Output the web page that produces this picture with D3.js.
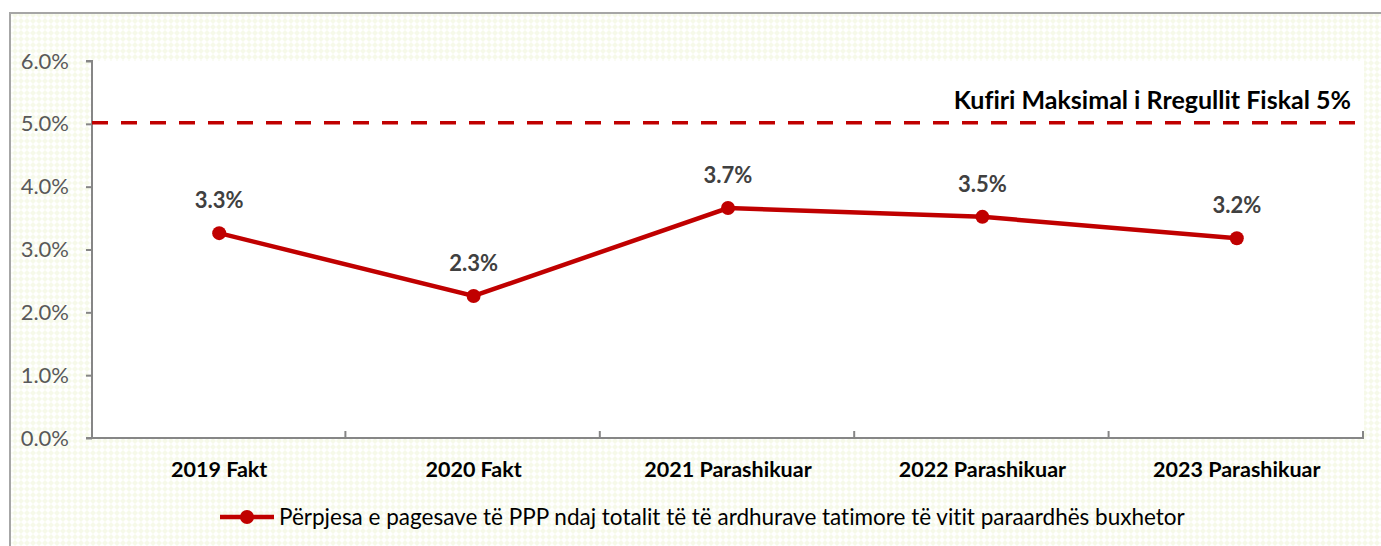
<!DOCTYPE html>
<html><head><meta charset="utf-8">
<script src="https://cdn.jsdelivr.net/npm/d3@7/dist/d3.min.js"></script>
<style>body{margin:0;background:#fff;}svg{display:block;}text{font-variant-ligatures:none;font-feature-settings:"liga" 0;}</style>
</head><body>
<svg id="c" width="1381" height="546"></svg>
<script>
const categories = ["2019 Fakt","2020 Fakt","2021 Parashikuar","2022 Parashikuar","2023 Parashikuar"];
const values = [3.26, 2.26, 3.66, 3.52, 3.18];
const valueLabels = ["3.3%","2.3%","3.7%","3.5%","3.2%"];
const yTicks = [0,1,2,3,4,5,6];
const limitValue = 5;
const limitLabel = "Kufiri Maksimal i Rregullit Fiskal 5%";
const seriesName = "Përpjesa e pagesave të PPP ndaj totalit të të ardhurave tatimore të vitit paraardhës buxhetor";

const svg = d3.select("#c");
const font = "Lato, 'Open Sans', sans-serif";
const defs = svg.append("defs");
const pat = defs.append("pattern").attr("id","bg").attr("patternUnits","userSpaceOnUse").attr("width",6).attr("height",6);
pat.append("rect").attr("width",6).attr("height",6).attr("fill","#ffffff");
pat.append("path").attr("d","M3,0 L6,3 L3,6 L0,3 Z").attr("fill","#f6f9e9");

svg.append("rect").attr("x",10).attr("y",13).attr("width",1400).attr("height",560)
  .attr("fill","url(#bg)").attr("stroke","#a6a6a6").attr("stroke-width",2);

const m = {l:92, r:1364, t:61, b:438};
const x = d3.scaleBand().domain(categories).range([m.l, m.r]);
const y = d3.scaleLinear().domain([0,6]).range([m.b, m.t]);

svg.append("rect").attr("x",m.l).attr("y",m.t).attr("width",m.r-m.l).attr("height",m.b-m.t).attr("fill","#fff");

// y axis
const ya = svg.append("g").attr("transform",`translate(${m.l},0)`)
  .call(d3.axisLeft(y).tickValues(yTicks).tickFormat(d=>d.toFixed(1)+"%").tickSize(6).tickPadding(6));
ya.select(".domain").attr("stroke","#868686").attr("stroke-width",2).attr("d",`M-6,${m.t}H0V${m.b}`);
ya.selectAll(".tick line").attr("stroke","#868686").attr("stroke-width",2);
ya.selectAll(".tick text").attr("font-family",font).attr("font-size",22).attr("fill","#595959").attr("x",-23);

// x axis
const xa = svg.append("g").attr("transform",`translate(0,${m.b})`)
  .call(d3.axisBottom(x).tickSize(0).tickPadding(22));
xa.select(".domain").attr("stroke","#868686").attr("stroke-width",2).attr("d",`M${m.l-6},0H${m.r}`);
xa.selectAll(".tick text").attr("font-family",font).attr("font-size",21.5).attr("font-weight","bold").attr("fill","#000")
  .attr("dy",null).attr("y",39);
const bounds = categories.map((c,i)=>x(c)+x.bandwidth());
svg.append("g").selectAll("line").data(bounds).join("line")
  .attr("x1",d=>d-1).attr("x2",d=>d-1).attr("y1",m.b-7).attr("y2",m.b)
  .attr("stroke","#868686").attr("stroke-width",2);

// limit line
svg.append("line").attr("x1",m.l).attr("x2",m.r).attr("y1",y(limitValue)-1).attr("y2",y(limitValue)-1)
  .attr("stroke","#c00000").attr("stroke-width",3.5).attr("stroke-dasharray","16,13");
svg.append("text").attr("x",1351).attr("y",y(limitValue)-15).attr("text-anchor","end")
  .attr("font-family",font).attr("font-size",25).attr("font-weight","bold").attr("fill","#000").text(limitLabel);

// series
const cx = (c)=>x(c)+x.bandwidth()/2;
svg.append("path").datum(values)
  .attr("d", d3.line().x((d,i)=>cx(categories[i])).y(d=>y(d)))
  .attr("fill","none").attr("stroke","#c00000").attr("stroke-width",4.5);
svg.append("g").selectAll("circle").data(values).join("circle")
  .attr("cx",(d,i)=>cx(categories[i])).attr("cy",d=>y(d)).attr("r",7).attr("fill","#c00000");
svg.append("g").selectAll("text").data(values).join("text")
  .attr("x",(d,i)=>cx(categories[i])).attr("y",d=>y(d)-25).attr("text-anchor","middle")
  .attr("font-family",font).attr("font-size",22).attr("font-weight","bold").attr("fill","#404040")
  .text((d,i)=>valueLabels[i]);

// legend
const lg = svg.append("g");
lg.append("line").attr("x1",220).attr("x2",274).attr("y1",517).attr("y2",517).attr("stroke","#c00000").attr("stroke-width",4.5);
lg.append("circle").attr("cx",247).attr("cy",517).attr("r",7).attr("fill","#c00000");
lg.append("text").attr("x",279).attr("y",525).attr("font-family",font).attr("font-size",22.5).attr("fill","#000").text(seriesName);
</script>
</body></html>
